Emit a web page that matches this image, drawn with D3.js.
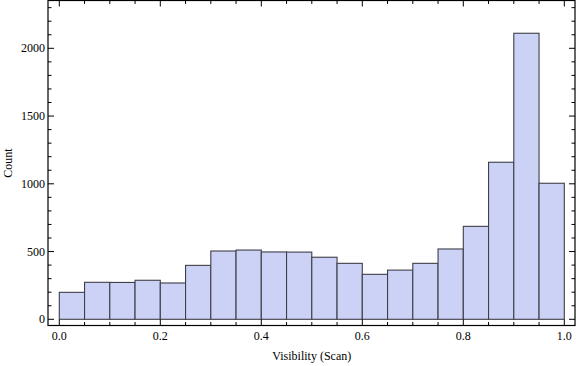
<!DOCTYPE html>
<html><head><meta charset="utf-8">
<script src="https://cdn.jsdelivr.net/npm/d3@7"></script>
<style>
html,body{margin:0;padding:0;background:#fff;}
svg{display:block;}
text{font-family:"Liberation Serif","Times New Roman",serif;fill:#000;}
</style></head>
<body><svg id="c" width="576" height="366"></svg>
<script>
const binStarts = [0,0.05,0.1,0.15,0.2,0.25,0.3,0.35,0.4,0.45,0.5,0.55,0.6,0.65,0.7,0.75,0.8,0.85,0.9,0.95];
const binWidth = 0.05;
const counts = [199,273,272,288,268,398,504,511,497,496,458,413,332,363,413,519,686,1159,2111,1004];
const xTicks = [0.0,0.2,0.4,0.6,0.8,1.0];
const xTickLabels = ["0.0","0.2","0.4","0.6","0.8","1.0"];
const yTicks = [0,500,1000,1500,2000];
const yTickLabels = ["0","500","1000","1500","2000"];
const xLabel = "Visibility (Scan)";
const yLabel = "Count";

const svg = d3.select("#c");
const frame = {l:48, r:575, t:0.5, b:325.5};
const x = d3.scaleLinear().domain([0,1]).range([59.3,564.3]);
const y = d3.scaleLinear().domain([0,2000]).range([319.3,48.3]);

// bars
svg.append("g").selectAll("rect").data(binStarts).join("rect")
  .attr("x", (d)=>x(d))
  .attr("width", (d)=>x(d+binWidth)-x(d))
  .attr("y", (d,i)=>y(counts[i]))
  .attr("height", (d,i)=>y(0)-y(counts[i]))
  .attr("fill","#cbd2f5")
  .attr("stroke","#3f3f48")
  .attr("stroke-width",1.1);

// frame
svg.append("rect").attr("x",frame.l).attr("y",frame.t)
  .attr("width",frame.r-frame.l).attr("height",frame.b-frame.t)
  .attr("fill","none").attr("stroke","#000").attr("stroke-width",1.2);

const xMinor = d3.range(0,1.0001,0.05).map(v=>+v.toFixed(2)).filter(v=>!xTicks.some(t=>Math.abs(t-v)<1e-9));
const yMinor = d3.range(0,2301,100).filter(v=>v%500!==0);
const MJ=6, MN=3.5;
const tg = svg.append("g").attr("stroke","#000").attr("stroke-width",1);
// bottom & top x ticks
xTicks.forEach(v=>{
  tg.append("line").attr("x1",x(v)).attr("x2",x(v)).attr("y1",frame.b).attr("y2",frame.b-MJ);
  tg.append("line").attr("x1",x(v)).attr("x2",x(v)).attr("y1",frame.t).attr("y2",frame.t+MJ);
});
xMinor.forEach(v=>{
  tg.append("line").attr("x1",x(v)).attr("x2",x(v)).attr("y1",frame.b).attr("y2",frame.b-MN);
  tg.append("line").attr("x1",x(v)).attr("x2",x(v)).attr("y1",frame.t).attr("y2",frame.t+MN);
});
yTicks.forEach(v=>{
  tg.append("line").attr("y1",y(v)).attr("y2",y(v)).attr("x1",frame.l).attr("x2",frame.l+MJ);
  tg.append("line").attr("y1",y(v)).attr("y2",y(v)).attr("x1",frame.r).attr("x2",frame.r-MJ);
});
yMinor.forEach(v=>{
  tg.append("line").attr("y1",y(v)).attr("y2",y(v)).attr("x1",frame.l).attr("x2",frame.l+MN);
  tg.append("line").attr("y1",y(v)).attr("y2",y(v)).attr("x1",frame.r).attr("x2",frame.r-MN);
});

// tick labels
svg.append("g").selectAll("text").data(xTicks).join("text")
  .attr("x",d=>x(d)).attr("y",339.5).attr("text-anchor","middle")
  .attr("font-size",12).text((d,i)=>xTickLabels[i]);
svg.append("g").selectAll("text").data(yTicks).join("text")
  .attr("x",45).attr("y",d=>y(d)+4).attr("text-anchor","end")
  .attr("font-size",12).text((d,i)=>yTickLabels[i]);

// axis labels
svg.append("text").attr("x",311.8).attr("y",360).attr("text-anchor","middle")
  .attr("font-size",12).text(xLabel);
svg.append("text").attr("transform","translate(12,163) rotate(-90)")
  .attr("text-anchor","middle").attr("font-size",12).text(yLabel);
</script></body></html>
